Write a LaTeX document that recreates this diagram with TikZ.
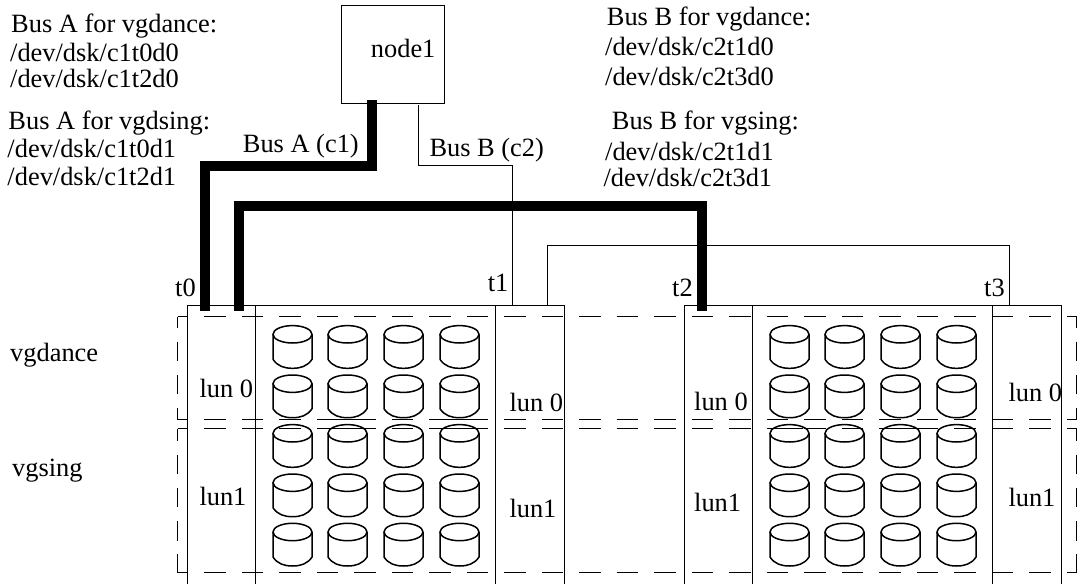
\documentclass[tikz,border=0pt]{standalone}
\usepackage{fontspec}
\setmainfont{Liberation Serif}
\tikzset{
  txt/.style={anchor=base west,inner sep=0pt,font=\fontsize{26.4}{30}\selectfont},
  thinline/.style={line width=1.5pt},
  busline/.style={line width=10pt},
  hdash/.style={line width=1.5pt,dash pattern=on 21.5pt off 16pt,dash phase=10.7pt},
  vdash/.style={line width=1.5pt,dash pattern=on 19.5pt off 13.8pt},
  disk/.pic={
    \draw[thinline] (0,0) ellipse [x radius=19.5,y radius=8.7];
    \draw[thinline] (-19.5,0) -- (-19.5,25) .. controls (-15,32) and (-8,34) .. (0,34)
      .. controls (8,34) and (15,32) .. (19.5,25) -- (19.5,0);
  }
}

\begin{document}
\begin{tikzpicture}[x=1pt,y=-1pt]
  \useasboundingbox (0,0) rectangle (1080,584);

  \node[draw,thinline,minimum width=103pt,minimum height=98pt,inner sep=0pt,outer sep=0pt] (node1) at (393,54.5) {};
  \node[txt] (node1txt) at (370.7,57.3) {node1};

  \coordinate (A0) at (371.7,100);
  \coordinate (A1) at (371.7,165.5);
  \coordinate (A2) at (204.5,165.5);
  \coordinate (t0) at (204.5,310.7);
  \coordinate (t0b) at (238.5,310.7);
  \coordinate (A3) at (238.5,205.7);
  \coordinate (A4) at (701.5,205.7);
  \coordinate (t2) at (701.5,310.7);
  \coordinate (B0) at (418.5,105);
  \coordinate (B1) at (418.5,165.5);
  \coordinate (B2) at (512.5,165.5);
  \coordinate (t1) at (512.5,305.5);
  \coordinate (t1b) at (547.5,305.5);
  \coordinate (B3) at (547.5,245.5);
  \coordinate (B4) at (1009.5,245.5);
  \coordinate (t3) at (1009.5,305.5);

  \draw[busline] (A0) -- (A1) -- (A2) -- (t0);
  \draw[busline] (t0b) -- (A3) -- (A4) -- (t2);
  \draw[thinline] (B0) -- (B1) -- (B2) -- (t1);
  \draw[thinline] (t1b) -- (B3) -- (B4) -- (t3);

  \foreach \xa/\xb/\xc/\xd in {187.5/255.5/495.5/564.5,684.5/752.5/992.5/1061.5}{
    \draw[thinline] (\xa,584) -- (\xa,305.5) -- (\xd,305.5) -- (\xd,584);
    \draw[thinline] (\xb,305.5) -- (\xb,584);
    \draw[thinline] (\xc,305.5) -- (\xc,584);
  }

  \foreach \cy in {316.5,419.5,428.5,572.5}
    \draw[hdash] (177.5,\cy) -- (1076.5,\cy);
  \foreach \cx in {177.5,1076.5}{
    \draw[vdash,dash phase=8.3pt] (\cx,316.5) -- (\cx,419.5);
    \draw[vdash,dash phase=7.3pt] (\cx,428.5) -- (\cx,572.5);
  }
  \foreach \xa/\xb/\cy in {338/354/419.5,450.7/466.7/419.5,338/354/428.5,450.7/466.7/428.5,788/803.3/428.5,900/916.7/428.5}
    \draw[thinline] (\xa,\cy) -- (\xb,\cy);

  \foreach \cx in {292.5,347.5,403.5,459.5,789.5,844.5,900.5,956.5}
    \foreach \cy in {334.3,383.7,433.3,482.7,532}
      \pic at (\cx,\cy) {disk};

  \node[txt] (busAdance) at (11,32.3) {Bus A for vgdance:};
  \node[txt] (busAdance1) at (10,61) {/dev/dsk/c1t0d0};
  \node[txt] (busAdance2) at (10,87.7) {/dev/dsk/c1t2d0};
  \node[txt] (busAsing) at (8.3,129) {Bus A for vgdsing:};
  \node[txt] (busAsing1) at (7.3,157.3) {/dev/dsk/c1t0d1};
  \node[txt] (busAsing2) at (7.3,185) {/dev/dsk/c1t2d1};
  \node[txt] (busBdance) at (606.7,25.7) {Bus B for vgdance:};
  \node[txt] (busBdance1) at (605,55) {/dev/dsk/c2t1d0};
  \node[txt] (busBdance2) at (605,85) {/dev/dsk/c2t3d0};
  \node[txt] (busBsing) at (611.7,129.3) {Bus B for vgsing:};
  \node[txt] (busBsing1) at (605,160) {/dev/dsk/c2t1d1};
  \node[txt] (busBsing2) at (603.3,186.7) {/dev/dsk/c2t3d1};
  \node[txt] (busA) at (242.7,152.7) {Bus A (c1)};
  \node[txt] (busB) at (429.3,156.7) {Bus B (c2)};
  \node[txt] (lblt0) at (175,296.7) {t0};
  \node[txt] (lblt1) at (487.7,291) {t1};
  \node[txt] (lblt2) at (672,296) {t2};
  \node[txt] (lblt3) at (984,296) {t3};
  \node[txt] (vgdance) at (10,361) {vgdance};
  \node[txt] (vgsing) at (12,476) {vgsing};
  \node[txt] (lunA0) at (199.3,397.7) {lun 0};
  \node[txt] (lunA1) at (199.3,505) {lun1};
  \node[txt] (lunB0) at (509.3,411.7) {lun 0};
  \node[txt] (lunB1) at (509.3,517.7) {lun1};
  \node[txt] (lunC0) at (694,410) {lun 0};
  \node[txt] (lunC1) at (694,511.7) {lun1};
  \node[txt] (lunD0) at (1008.3,401) {lun 0};
  \node[txt] (lunD1) at (1008.3,506.7) {lun1};
\end{tikzpicture}
\end{document}
